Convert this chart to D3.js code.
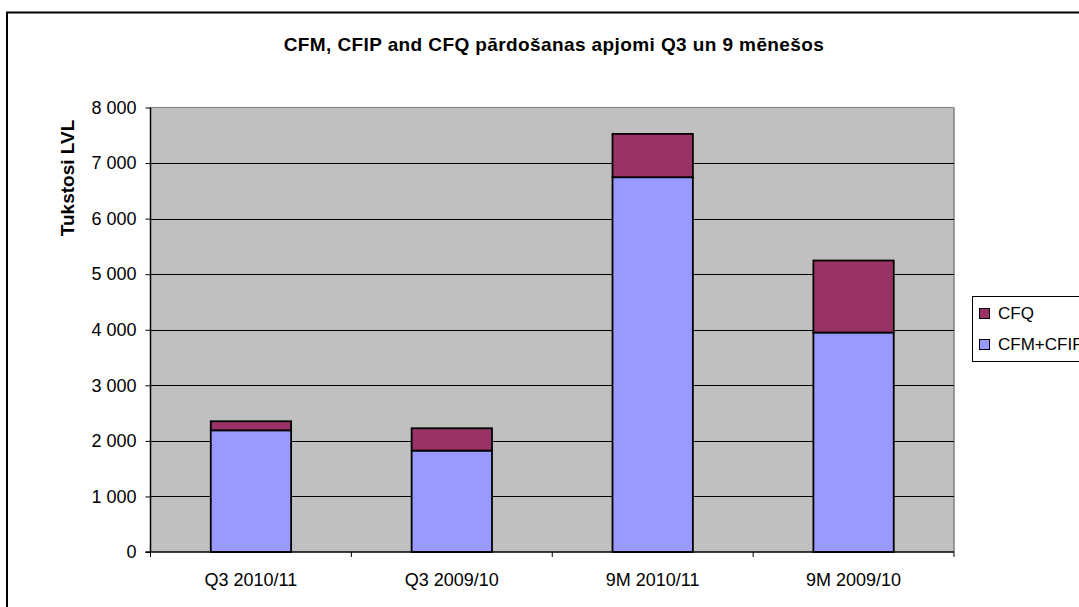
<!DOCTYPE html>
<meta charset="utf-8">
<style>
    body { margin: 0; background: #fff; }
    svg { font-family: "Liberation Sans", Arial, sans-serif; }
    .grid line { stroke: #000; stroke-width: 1px; }
    .bar { stroke: #000; stroke-width: 1.8px; }
</style>
<svg width="1079" height="607"></svg>
<script src="https://d3js.org/d3.v7.min.js"></script>
<script>

    var categories = ["Q3 2010/11", "Q3 2009/10", "9M 2010/11", "9M 2009/10"];
    var cfmCfip = [2190, 1825, 6745, 3950];
    var cfq = [163, 402, 780, 1296];
    var seriesNames = ["CFM+CFIP", "CFQ"];
    var seriesColors = ["#9999FF", "#993366"];
    var yTicks = [0, 1000, 2000, 3000, 4000, 5000, 6000, 7000, 8000];

    var svg = d3.select("svg");

    var plotLeft = 150.5, plotRight = 954, plotTop = 107.5, plotBottom = 552;

    // outer chart border
    svg.append("rect")
            .attr("x", 7).attr("y", 12.5)
            .attr("width", 1100).attr("height", 620)
            .attr("fill", "none").attr("stroke", "#000").attr("stroke-width", 2);

    var x = d3.scaleBand().domain(categories).range([plotLeft, plotRight]).paddingInner(0.6).paddingOuter(0.3);
    var y = d3.scaleLinear().domain([0, 8000]).range([plotBottom, plotTop]);

    svg.append("rect")
            .attr("x", plotLeft).attr("y", plotTop)
            .attr("width", plotRight - plotLeft).attr("height", plotBottom - plotTop)
            .attr("fill", "#C0C0C0");

    svg.append("line")
            .attr("x1", plotRight).attr("x2", plotRight).attr("y1", plotTop).attr("y2", plotBottom)
            .attr("stroke", "#808080").attr("stroke-width", 1.5);
    svg.append("line")
            .attr("x1", plotLeft).attr("x2", plotRight).attr("y1", plotTop).attr("y2", plotTop)
            .attr("stroke", "#808080").attr("stroke-width", 1);

    svg.append("g")
            .attr("class", "grid")
            .selectAll("line")
            .data(yTicks.filter(function(d) { return d > 0 && d < 8000; }))
            .enter().append("line")
            .attr("x1", plotLeft).attr("x2", plotRight)
            .attr("y1", function(d) { return Math.round(y(d)) + 0.5; })
            .attr("y2", function(d) { return Math.round(y(d)) + 0.5; });

    var stacked = d3.stack().keys([0, 1])(categories.map(function(c, i) {
        return [cfmCfip[i], cfq[i]];
    }));

    svg.append("g")
            .selectAll("g")
            .data(stacked)
            .enter().append("g")
            .attr("fill", function(d, i) { return seriesColors[i]; })
            .selectAll("rect")
            .data(function(d) { return d; })
            .enter().append("rect")
            .attr("class", "bar")
            .attr("x", function(d, i) { return x(categories[i]); })
            .attr("width", x.bandwidth())
            .attr("y", function(d) { return y(d[1]); })
            .attr("height", function(d) { return y(d[0]) - y(d[1]); });

    var yAxis = d3.axisLeft(y)
            .tickValues(yTicks)
            .tickSize(5)
            .tickPadding(9)
            .tickFormat(function(d) { return d3.format(",")(d).replace(/,/g, " "); });

    var gy = svg.append("g").attr("transform", "translate(" + plotLeft + ",0)").call(yAxis);
    gy.select(".domain").attr("stroke", "#000").attr("stroke-width", 1.5)
            .attr("d", "M0," + plotTop + "V" + plotBottom);
    gy.selectAll(".tick line").attr("stroke", "#000");
    gy.selectAll("text").attr("font-size", "18px").attr("fill", "#000")
            .attr("font-family", "Liberation Sans, Arial, sans-serif");

    var xTickPos = [plotLeft].concat(categories.map(function(c) { return x(c) + x.bandwidth() / 2 + x.step() / 2; }));
    svg.append("line")
            .attr("x1", plotLeft - 5).attr("x2", plotRight).attr("y1", plotBottom).attr("y2", plotBottom)
            .attr("stroke", "#000").attr("stroke-width", 1.5);
    svg.append("g")
            .selectAll("line")
            .data(xTickPos)
            .enter().append("line")
            .attr("x1", function(d) { return d; }).attr("x2", function(d) { return d; })
            .attr("y1", plotBottom).attr("y2", plotBottom + 5)
            .attr("stroke", "#000");

    svg.append("g")
            .selectAll("text")
            .data(categories)
            .enter().append("text")
            .attr("x", function(d) { return x(d) + x.bandwidth() / 2; })
            .attr("y", 586)
            .attr("text-anchor", "middle")
            .attr("font-size", "18px")
            .text(function(d) { return d; });

    svg.append("text")
            .attr("x", 554).attr("y", 51)
            .attr("text-anchor", "middle")
            .attr("font-size", "19px")
            .attr("font-weight", "bold")
            .attr("letter-spacing", "0.4px")
            .text("CFM, CFIP and CFQ pārdošanas apjomi Q3 un 9 mēnešos");

    svg.append("text")
            .attr("transform", "translate(74,178) rotate(-90)")
            .attr("text-anchor", "middle")
            .attr("font-size", "19px")
            .attr("font-weight", "bold")
            .text("Tukstosi LVL");

    // legend
    var legend = svg.append("g");
    legend.append("rect")
            .attr("x", 972.5).attr("y", 296.5)
            .attr("width", 200).attr("height", 65)
            .attr("fill", "#fff").attr("stroke", "#000");

    var legendItems = [1, 0];
    legend.selectAll(".item")
            .data(legendItems)
            .enter().append("g")
            .attr("transform", function(d, i) { return "translate(979," + (308 + i * 31) + ")"; })
            .each(function(d) {
                var g = d3.select(this);
                g.append("rect").attr("x", 0.5).attr("y", 0.5).attr("width", 10).attr("height", 10)
                        .attr("fill", seriesColors[d]).attr("stroke", "#000");
                g.append("text").attr("x", 19).attr("y", 10.5).attr("font-size", "17px")
                        .text(seriesNames[d]);
            });

</script>
